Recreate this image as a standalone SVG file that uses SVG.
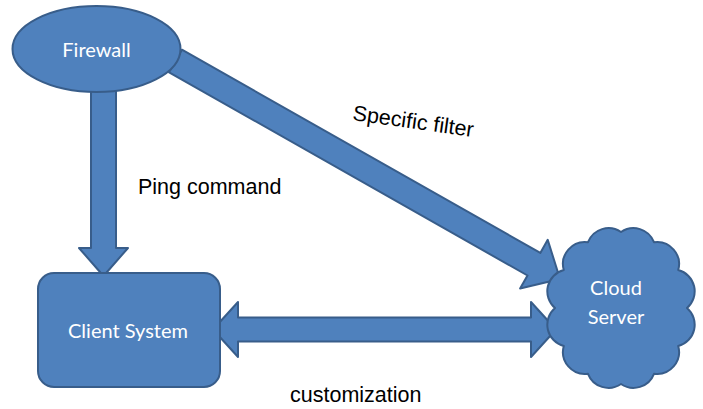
<svg xmlns="http://www.w3.org/2000/svg" width="703" height="409" viewBox="0 0 703 409">
<style>
.shape{fill:#4F81BD;stroke:#385D8A;stroke-width:2;stroke-linejoin:round}
.nlabel{font-family:Lato,"Open Sans",sans-serif;font-size:20px;fill:#FFFFFF;text-anchor:middle}
.elabel{font-family:"Liberation Sans",Arial,sans-serif;font-size:21.5px;fill:#000000}
</style>
<rect width="703" height="409" fill="#FFFFFF"/>
<g id="connectors">
<polygon class="shape" points="91,88 116,88 116,248 128,248 103.5,276 79,248 91,248"/>
<g transform="translate(175.5,61) rotate(29.55)">
<polygon class="shape" points="0,-13 412,-13 412,-28 442,0 412,28 412,13 0,13"/>
</g>
<polygon class="shape" points="213,329.5 238,302 238,317.5 531,317.5 531,302 556,329.5 531,357 531,341.5 238,341.5 238,357"/>
<text class="elabel" x="138" y="194">Ping command</text>
<text class="elabel" x="352" y="120" transform="rotate(8 352 120)">Specific filter</text>
<text class="elabel" x="290" y="402">customization</text>
</g>
<g id="firewall">
<ellipse class="shape" cx="96.5" cy="49" rx="84" ry="43"/>
<text class="nlabel" x="96.5" y="57">Firewall</text>
</g>
<g id="client-system">
<rect class="shape" x="38" y="273" width="182" height="114" rx="16" ry="16"/>
<text class="nlabel" x="128" y="338">Client System</text>
</g>
<g id="cloud-server">
<path class="shape" d="M687,308 A22,22 0 0 1 678.2,346 A22,22 0 0 1 654,373.8 A22,22 0 0 1 621,384 A22,22 0 0 1 588,373.8 A22,22 0 0 1 563.8,346 A22,22 0 0 1 555,308 A22,22 0 0 1 563.8,270 A22,22 0 0 1 588,242.2 A22,22 0 0 1 621,232 A22,22 0 0 1 654,242.2 A22,22 0 0 1 678.2,270 A22,22 0 0 1 687,308 Z"/>
<text class="nlabel" x="616" y="295">Cloud</text>
<text class="nlabel" x="616" y="324">Server</text>
</g>
</svg>
